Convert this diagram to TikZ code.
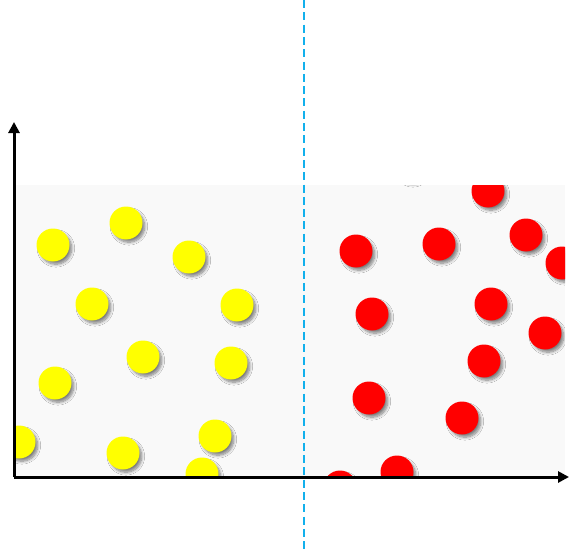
\documentclass[tikz,border=0pt]{standalone}
\usetikzlibrary{arrows.meta, shadows.blur}
\definecolor{sepblue}{HTML}{12B0EC}
\definecolor{boxgray}{HTML}{F9F9F9}
\definecolor{ballyellow}{RGB}{255,255,0}
\definecolor{ballred}{RGB}{255,0,0}
\tikzset{
    ball/.style={blur shadow={shadow xshift=3pt, shadow yshift=-3.5pt, shadow scale=0.96, shadow blur steps=8, shadow blur radius=3pt, shadow opacity=50}},
    axis/.style={line width=3pt, -{Triangle[length=11pt, width=11pt]}}
}

\begin{document}
\begin{tikzpicture}[x=1pt, y=-1pt]
        \useasboundingbox (0,0) rectangle (582,554);
        \coordinate (O) at (14,477);
        \coordinate (X) at (569,477);
        \coordinate (Y) at (14,122);
        \coordinate (T) at (304,0);
        \coordinate (B) at (304,550);

        % fond gris
        \fill[boxgray] (15,185) rectangle (565,476);

        \begin{scope}
            \clip (15,185) rectangle (565,476);
            % billes jaunes
            \foreach \p in {(53,245),(126,223),(189,257),(92,304),(237,305),(143,357),
                            (231,363),(55,383),(19,442),(123,453),(215,436),(202,474)}
                \fill[ballyellow, ball] \p circle (16.5);
            % billes rouges
            \foreach \p in {(488,191),(356,251),(439,244),(526,235),(562,263),(372,314),
                            (491,304),(545,333),(484,361),(369,398),(462,418),(397,472),
                            (340,487),(410,165)}
                \fill[ballred, ball] \p circle (16.5);
        \end{scope}

        % axes
        \draw[axis] (O) -- (Y);
        \draw[axis] (O) -- (X);

        % separation
        \draw[sepblue, line width=2.6pt, dash pattern=on 8pt off 4.3pt] (T) -- (B);
    \end{tikzpicture}
\end{document}
